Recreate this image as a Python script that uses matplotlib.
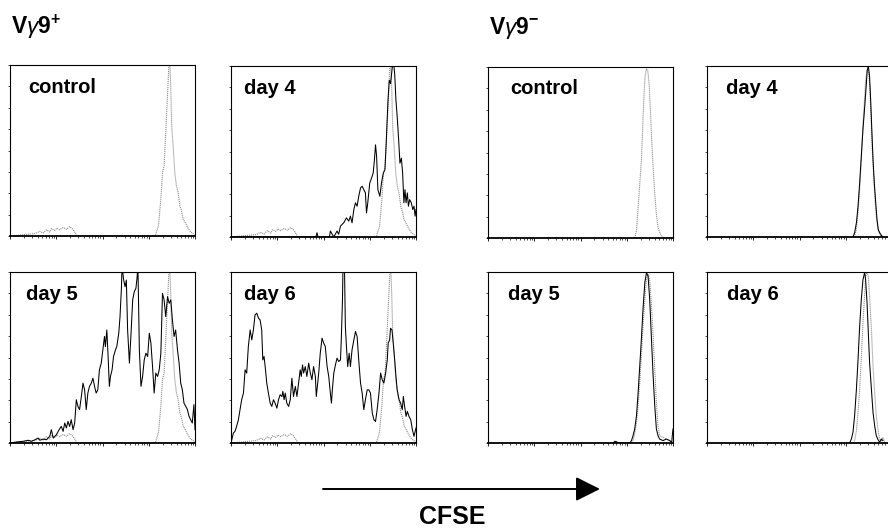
import numpy as np
import matplotlib
matplotlib.use("Agg")
import matplotlib.pyplot as plt
from matplotlib.ticker import LogLocator, NullFormatter, FixedLocator
from matplotlib.patches import FancyArrowPatch

plt.rcParams['font.family'] = ['Liberation Sans', 'DejaVu Sans']
plt.rcParams['mathtext.fontset'] = 'custom'
plt.rcParams['mathtext.rm'] = 'Liberation Sans'
plt.rcParams['mathtext.bf'] = 'Liberation Sans:bold'
plt.rcParams['mathtext.it'] = 'Liberation Sans:italic'

# ---------------- data (channel 0-1023 on a 4-decade log scale, counts as % of axis height) ----
# V gamma 9 positive: control (unstimulated) CFSE profile, grey dotted overlay
pos_ctrl_ch = [0, 138, 165, 183, 202, 220, 229, 248, 261, 275, 294, 312, 330, 345, 358, 371,
               804, 822, 835, 844, 853, 862, 868, 875, 881, 884, 890, 895, 903, 912, 921, 930,
               940, 949, 958, 973, 987, 1000, 1013, 1024]
pos_ctrl_cnt = [0, 1.4, 2.7, 1.7, 3.7, 2.3, 4.3, 3.3, 4.7, 3.7, 5.0, 3.9, 5.4, 4.3, 2.3, 0,
                0, 6.2, 21.7, 37.2, 41.1, 60.5, 74, 89.5, 104, 104, 85.7, 64.3, 52.7, 37.2, 29.5, 25.6,
                17.8, 14.9, 10.1, 7.2, 4.3, 2.3, 1.4, 0]

pos_d4_ch = [0, 470, 476, 482, 545, 550, 569, 587, 596, 606, 624, 639, 652, 661, 670, 680, 689, 698,
             707, 717, 726, 735, 744, 750, 757, 768, 778, 787, 794, 800, 806, 813, 824, 833, 843, 852,
             859, 869, 876, 883, 891, 898, 906, 913, 920, 928, 935, 943, 950, 957, 963, 969, 976, 982,
             989, 998, 1006, 1013, 1019, 1024]
pos_d4_cnt = [0, 0, 2.5, 0, 0, 3.5, 0, 3.5, 1.6, 6.4, 8.3, 11.2, 9.3, 12.2, 8.3, 16.1, 20, 18,
              23.8, 28.7, 29.7, 27.7, 25.8, 14.1, 20, 31.6, 34.5, 37.4, 45.2, 53.9, 47.1, 27.7, 23.8, 31.6,
              37.4, 39.3, 54.8, 80, 91.7, 89.7, 97.5, 104, 95.5, 80, 70.3, 56.8, 43.2, 46.1, 37.4, 20,
              27.7, 20, 25.8, 18, 21.9, 20, 16.1, 18, 12.2, 16.1]

pos_d5_ch = [0, 37, 73, 101, 119, 138, 156, 165, 184, 202, 220, 229, 239, 257, 272, 284, 294, 303,
             312, 321, 330, 339, 349, 358, 367, 376, 385, 395, 404, 413, 422, 431, 440, 450, 459, 468,
             477, 486, 495, 505, 514, 523, 528, 536, 543, 550, 556, 565, 573, 584, 591, 602, 609, 617,
             620, 629, 637, 644, 651, 661, 670, 679, 688, 697, 703, 708, 716, 725, 734, 743, 752, 762,
             771, 780, 789, 798, 807, 817, 826, 835, 844, 853, 862, 872, 881, 890, 899, 908, 917, 927,
             936, 945, 954, 963, 973, 982, 991, 1000, 1009, 1018, 1024]
pos_d5_cnt = [0, 0.6, 1.0, 1.6, 1.0, 1.9, 2.9, 1.6, 2.3, 1.9, 3.9, 7.8, 2.9, 4.9, 7.8, 9.7, 6.8, 11.7,
              8.8, 12.6, 9.7, 13.6, 7.8, 11.7, 25.3, 21.4, 19.5, 27.2, 35.0, 31.1, 19.5, 29.2, 33.1, 35.0, 37.9, 33.1,
              29.2, 31.1, 42.8, 46.7, 54.5, 62.3, 56.4, 66.1, 50.6, 33.1, 38.9, 42.8, 50.6, 54.5, 56.4, 64.2, 73.9, 91.4,
              104, 95.3, 91.4, 95.3, 66.1, 46.7, 64.2, 83.7, 88.5, 90.5, 96.3, 104, 54.5, 33.1, 38.9, 48.6, 52.5, 50.6,
              64.2, 58.4, 44.7, 29.2, 40.9, 38.9, 42.8, 52.5, 87.5, 83.7, 73.9, 85.6, 81.7, 83.7, 72.0, 62.3, 66.1, 54.5,
              46.7, 35.0, 31.1, 23.3, 21.4, 19.5, 15.6, 13.6, 11.7, 22.4, 7.8]

pos_d6_ch = [0, 13, 22, 31, 41, 50, 59, 69, 78, 87, 96, 106, 115, 124, 133, 143, 152, 161, 170, 176,
             183, 191, 198, 207, 217, 226, 235, 244, 254, 263, 272, 282, 287, 294, 300, 309, 319, 328,
             337, 346, 356, 365, 374, 383, 389, 396, 402, 411, 420, 430, 439, 448, 457, 467, 472, 480,
             487, 494, 504, 513, 522, 532, 541, 550, 556, 561, 569, 578, 587, 596, 606, 611, 617, 620,
             628, 633, 639, 646, 654, 661, 670, 680, 689, 698, 707, 717, 726, 735, 744, 754, 763, 772,
             782, 791, 800, 809, 819, 828, 837, 846, 856, 865, 870, 878, 883, 891, 898, 906, 913, 920,
             930, 939, 948, 954, 961, 969, 976, 985, 995, 1004, 1013, 1024]
pos_d6_cnt = [0, 5.8, 6.8, 9.7, 13.6, 19.5, 25.3, 29.2, 42.8, 40.9, 56.4, 66.1, 60.3, 66.1, 74.9, 75.9, 73.0, 72.0, 66.1, 48.6,
              50.6, 42.8, 35.0, 29.2, 23.3, 21.4, 25.3, 23.3, 20.4, 25.3, 28.2, 27.2, 30.2, 25.3, 29.2, 23.3, 21.4, 25.3,
              37.9, 27.2, 33.1, 27.2, 35.0, 42.8, 38.9, 45.7, 40.9, 44.7, 38.9, 46.7, 40.9, 37.0, 44.7, 38.9, 27.2, 35.0,
              42.8, 52.5, 61.3, 58.4, 56.4, 44.7, 38.9, 29.2, 23.3, 31.1, 40.9, 45.7, 49.6, 47.7, 48.6, 62.3, 83.7, 104,
              104, 68.1, 56.4, 44.7, 52.5, 44.7, 54.5, 60.3, 65.2, 62.3, 48.6, 35.0, 29.2, 19.5, 25.3, 31.1, 31.1, 29.2,
              17.5, 13.6, 12.6, 19.5, 29.2, 40.9, 37.0, 35.0, 40.9, 48.6, 58.4, 60.3, 67.1, 66.1, 58.4, 48.6, 38.9, 31.1,
              25.3, 23.3, 19.5, 27.2, 21.4, 15.6, 18.5, 15.6, 13.6, 7.8, 3.9, 8.8]

# V gamma 9 negative
neg_ctrl_ch = [812, 822, 831, 840, 849, 855, 862, 869, 877, 884, 892, 899, 906, 914, 923, 932, 941, 950, 960, 973]
neg_ctrl_cnt = [0, 4.3, 17.9, 31.6, 45.3, 60.9, 80.5, 94.1, 99, 98, 90.2, 74.6, 57, 41.4, 25.8, 14.1, 6.3, 3.3, 1.4, 0]

neg_d4_ch = [808, 817, 827, 836, 845, 854, 863, 873, 882, 887, 893, 900, 906, 913, 919, 926, 934, 941, 948, 956, 965, 974]
neg_d4_cnt = [0, 2.5, 8.3, 18, 31.6, 47.1, 62.6, 76.2, 89.7, 97.5, 100, 93.6, 80, 60.7, 45.2, 31.6, 20, 10.3, 4.3, 2.5, 1, 0]
neg_d4_ctrl_ch = [817, 827, 836, 845, 854, 863, 873, 878, 886, 893, 900, 908, 915, 923, 930, 937, 947, 956, 970]
neg_d4_ctrl_cnt = [0, 4.5, 14.1, 27.7, 45.2, 64.5, 82, 91.7, 97.5, 99.5, 89.7, 70.3, 51, 35.5, 22, 12.2, 4.5, 1.6, 0]

neg_d5_ch = [693, 702, 711, 720, 785, 794, 803, 812, 822, 831, 840, 849, 858, 868, 877, 886, 895, 904, 914, 923,
             932, 941, 950, 969, 987, 1006, 1017, 1020, 1024]
neg_d5_cnt = [0, 1, 0.8, 0, 0, 1.4, 4.3, 8.2, 16, 29.6, 45.1, 60.7, 78.2, 93.8, 99.6, 97.7, 84, 62.6, 39.3, 21.8,
              8.2, 4.3, 2.3, 1.4, 2.3, 1.4, 0.4, 4.3, 8.2]
neg_d5_ctrl_ch = [794, 803, 812, 822, 831, 840, 849, 858, 868, 877, 886, 895, 904, 914, 923, 932, 941, 950, 969, 987, 1006, 1024]
neg_d5_ctrl_cnt = [0, 1.4, 5.3, 12.1, 21.8, 35.4, 51, 68.5, 84, 95.7, 98.6, 95.7, 82, 62.6, 43.2, 23.7, 10.1, 4.3, 3.3, 2.3, 1.4, 0]

neg_d6_ch = [790, 799, 808, 817, 827, 836, 845, 854, 863, 873, 878, 886, 893, 900, 910, 919, 928, 937, 947, 956, 965, 974]
neg_d6_cnt = [0, 2.3, 6.2, 15.9, 31.4, 48.8, 68.2, 83.7, 95.3, 100, 95.3, 81.8, 64.3, 46.9, 31.4, 17.8, 10.1, 4.3, 1.9, 0.4, 2.3, 1.4]
neg_d6_ctrl_ch = [808, 817, 827, 836, 845, 854, 863, 873, 878, 886, 893, 900, 910, 919, 928, 937, 947, 956, 965, 974, 983]
neg_d6_ctrl_cnt = [0, 1.4, 7.2, 17.8, 31.4, 48.8, 70.2, 87.6, 97.3, 100, 97.3, 85.7, 66.3, 45, 29.5, 15.9, 7.2, 2.3, 1.4, 3.3, 0.4]

panel_labels = ["control", "day 4", "day 5", "day 6", "control", "day 4", "day 5", "day 6"]
group_titles = [r"$\mathbf{V}\gamma\mathbf{9}^{\mathbf{+}}$", r"$\mathbf{V}\gamma\mathbf{9}^{\mathbf{-}}$"]
axis_title = "CFSE"

# (grey control curve, black sample curve) per panel
panels = [
    ((pos_ctrl_ch, pos_ctrl_cnt), None),
    ((pos_ctrl_ch, pos_ctrl_cnt), (pos_d4_ch, pos_d4_cnt)),
    ((pos_ctrl_ch, pos_ctrl_cnt), (pos_d5_ch, pos_d5_cnt)),
    ((pos_ctrl_ch, pos_ctrl_cnt), (pos_d6_ch, pos_d6_cnt)),
    ((neg_ctrl_ch, neg_ctrl_cnt), None),
    ((neg_d4_ctrl_ch, neg_d4_ctrl_cnt), (neg_d4_ch, neg_d4_cnt)),
    ((neg_d5_ctrl_ch, neg_d5_ctrl_cnt), (neg_d5_ch, neg_d5_cnt)),
    ((neg_d6_ctrl_ch, neg_d6_ctrl_cnt), (neg_d6_ch, neg_d6_cnt)),
]

# ---------------- layout (pixels) ----------------
W, H = 888, 529
fig = plt.figure(figsize=(W / 100, H / 100), dpi=100)
fig.patch.set_facecolor("white")

lefts = [10, 231, 10, 231, 488, 707, 488, 707]
tops = [65, 66, 272, 272, 67, 66, 272, 272]
pw, ph = 185, 171
label_off = [(18, 22), (13, 22), (16, 23), (13, 23), (22, 21), (19, 22), (20, 23), (20, 23)]


def to_cfse(ch):
    return 10 ** (np.asarray(ch, dtype=float) / 256.0)


for i, (ctrl, samp) in enumerate(panels):
    l, t = lefts[i], tops[i]
    ax = fig.add_axes([l / W, 1 - (t + ph) / H, pw / W, ph / H])
    ax.set_xscale("log")
    ax.set_xlim(1, 1e4)
    ax.set_ylim(0, 100)
    cx, cy = ctrl
    ax.plot(to_cfse(cx), cy, color="#8c8c8c", lw=0.8, ls=(0, (1, 0.8)))
    if samp is not None:
        sx, sy = samp
        ax.plot(to_cfse(sx), sy, color="black", lw=0.75)
    for s in ax.spines.values():
        s.set_linewidth(0.8)
    ax.spines["bottom"].set_linewidth(1.3)
    ax.xaxis.set_major_locator(LogLocator(base=10, numticks=10))
    ax.xaxis.set_minor_locator(LogLocator(base=10, subs=np.arange(2, 10), numticks=20))
    ax.xaxis.set_major_formatter(NullFormatter())
    ax.xaxis.set_minor_formatter(NullFormatter())
    ax.yaxis.set_major_locator(FixedLocator(np.arange(0, 101, 12.5)))
    ax.set_yticklabels([])
    ax.tick_params(axis="x", which="major", direction="out", length=2.5, width=0.6, top=False)
    ax.tick_params(axis="x", which="minor", direction="out", length=1.6, width=0.5, top=False)
    ax.tick_params(axis="y", which="major", direction="out", length=1.8, width=0.5, right=False)
    dx, dy = label_off[i]
    ax.text(dx / pw, 1 - dy / ph, panel_labels[i], transform=ax.transAxes,
            fontsize=14.5, fontweight="bold", ha="left", va="center")

# group titles
fig.text(11 / W, 1 - 34 / H, group_titles[0], fontsize=16.5, ha="left", va="baseline")
fig.text(489 / W, 1 - 34 / H, group_titles[1], fontsize=16.5, ha="left", va="baseline")

# CFSE arrow
arrow = FancyArrowPatch((323, H - 489), (600, H - 489), transform=None,
                        arrowstyle="-|>,head_length=15,head_width=7.5", mutation_scale=1,
                        lw=1.4, color="black", shrinkA=0, shrinkB=0)
fig.add_artist(arrow)
fig.text(452 / W, 1 - 517 / H, axis_title, fontsize=18, fontweight="bold", ha="center", va="center")

fig.savefig("out.png", dpi=100)
